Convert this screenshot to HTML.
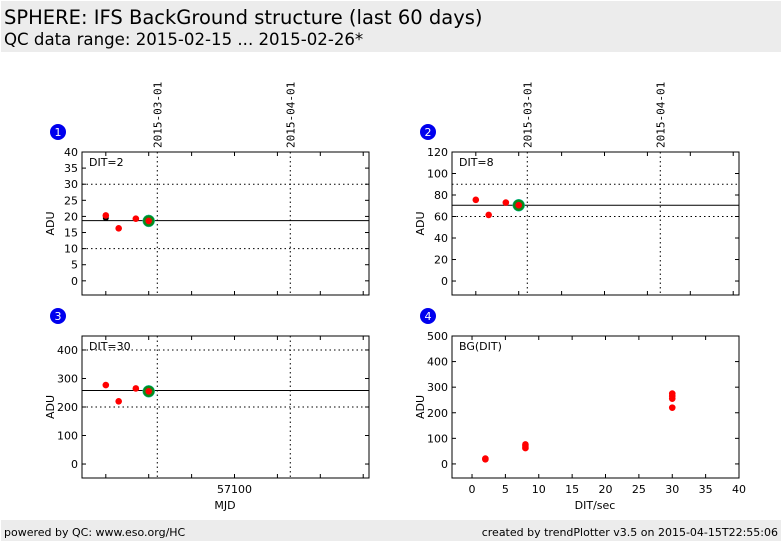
<!DOCTYPE html>
<html><head><meta charset="utf-8"><style>
body{margin:0;background:#fff;width:782px;height:542px;overflow:hidden;font-family:"DejaVu Sans","Liberation Sans",sans-serif}
svg text{font-family:"DejaVu Sans","Liberation Sans",sans-serif;fill:#000}
</style></head><body>
<svg id="c" width="782" height="542" xmlns="http://www.w3.org/2000/svg">
<rect x="1" y="1" width="780" height="51" fill="#ececec"/>
<text x="4" y="24" font-size="19.5">SPHERE: IFS BackGround structure (last 60 days)</text>
<text x="4" y="45" font-size="16.6">QC data range: 2015-02-15 ... 2015-02-26*</text>
<rect x="1" y="520" width="780" height="21" fill="#ececec"/>
<text x="4" y="536" font-size="11">powered by QC: www.eso.org/HC</text>
<text x="778" y="536" font-size="11" text-anchor="end">created by trendPlotter v3.5 on 2015-04-15T22:55:06</text>
<g id="plots"></g>
</svg>
<script>
// time panels: MJD values
const mjd = [57070, 57073, 57077, 57080];
const dit2Values = [20.3, 16.3, 19.3, 18.6];
const dit2Extra = [19.5];
const dit2Mean = 18.7;
const dit8Values = [75.5, 61.5, 73, 70.5];
const dit8Mean = 70.5;
const dit30Values = [277, 220, 265, 255];
const dit30Mean = 258;
const dateLineMjd = [57082, 57113];
const dateLabels = ["2015-03-01", "2015-04-01"];
// BG(DIT) panel
const bgDit = [2, 2, 8, 8, 8, 30, 30, 30, 30];
const bgAdu = [18, 21, 62, 70, 76, 220, 255, 265, 275];
const ticks1 = [0,5,10,15,20,25,30,35,40];
const ticks2 = [0,20,40,60,80,100,120];
const ticks3 = [0,100,200,300,400];
const ticks4 = [0,100,200,300,400,500];
const ticksX4 = [0,5,10,15,20,25,30,35,40];
const ticksMjd = [57070,57080,57090,57100,57110,57120,57130];

const NS="http://www.w3.org/2000/svg";
const root=document.getElementById('plots');
function mk(tag,a,parent){const e=document.createElementNS(NS,tag);for(const k in a)e.setAttribute(k,a[k]);(parent||root).appendChild(e);return e;}
function lin(d0,d1,r0,r1){return v=>r0+(v-d0)*(r1-r0)/(d1-d0);}

function panel(o){
  const g=mk('g',{});
  
  
  const X=lin(o.xd[0],o.xd[1],o.x0,o.x1), Y=lin(o.yd[0],o.yd[1],o.y1,o.y0);
  o.yt.forEach(t=>{const y=Y(t);
    mk('line',{x1:o.x0,x2:o.x0+4,y1:y,y2:y,stroke:'#000'},g);
    mk('line',{x1:o.x1-4,x2:o.x1,y1:y,y2:y,stroke:'#000'},g);
    const tx=mk('text',{x:o.x0-4,y:y+4,'font-size':11,'text-anchor':'end'},g);tx.textContent=t;
    
    
  });
  o.xt.forEach(t=>{const x=X(t);
    mk('line',{x1:x,x2:x,y1:o.y1,y2:o.y1-4,stroke:'#000'},g);
    mk('line',{x1:x,x2:x,y1:o.y0,y2:o.y0+4,stroke:'#000'},g);
    if(o.xlabels&&o.xlabels(t)){const tx=mk('text',{x:x,y:o.y1+15,'font-size':11,'text-anchor':'middle'},g);tx.textContent=o.xlabels(t);
      
      }
  });
  if(o.grid){ (o.grid.y||[]).forEach(v=>mk('line',{x1:o.x0,x2:o.x1,y1:Y(v),y2:Y(v),stroke:'#000','stroke-dasharray':'1.5,3'},g));
    dateLineMjd.forEach(v=>mk('line',{x1:X(v),x2:X(v),y1:o.y0,y2:o.y1,stroke:'#000','stroke-dasharray':'1.5,3'},g)); }
  if(o.mean!==undefined) mk('line',{x1:o.x0,x2:o.x1,y1:Y(o.mean),y2:Y(o.mean),stroke:'#000'},g);
  if(o.extra) o.extra.forEach(v=>mk('circle',{cx:X(o.xs[0]),cy:Y(v),r:3,fill:'#000'},g));
  o.xs.forEach((xv,i)=>{
    if(o.last&&i===o.xs.length-1){const c=mk('circle',{cx:X(xv),cy:Y(o.ys[i]),r:6,fill:'#0a8a1a',stroke:'#1cb','stroke-width':0.5},g);
      
      }
    const p=mk('circle',{cx:X(xv),cy:Y(o.ys[i]),r:3.3,fill:'#f00'},g);
    
    
  });
  mk('rect',{x:o.x0,y:o.y0,width:o.x1-o.x0,height:o.y1-o.y0,fill:'none',stroke:'#000'},g);
  const lb=mk('text',{x:o.x0+7,y:o.y0+14,'font-size':11},g);lb.textContent=o.label;
  
  
  const yl=mk('text',{x:0,y:0,'font-size':11,'text-anchor':'middle',transform:`translate(${o.x0-28},${(o.y0+o.y1)/2}) rotate(-90)`},g);yl.textContent='ADU';
  
  
  const bc=mk('circle',{cx:o.x0-24,cy:o.y0-20,r:8,fill:'#0000ee'},g);
  
  
  const bt=mk('text',{x:o.x0-24,y:o.y0-16,'font-size':11,'text-anchor':'middle',fill:'#fff',style:'fill:#fff'},g);bt.textContent=o.num;
  if(o.dates){dateLineMjd.forEach((v,i)=>{const t=mk('text',{x:0,y:0,'font-size':11,'font-family':'DejaVu Sans Mono, Liberation Mono, monospace',style:'font-family:"DejaVu Sans Mono","Liberation Mono",monospace',transform:`translate(${X(v)+4},${o.y0-4}) rotate(-90)`},g);t.textContent=dateLabels[i];
    
    });}
  return {X,Y,g};
}
const mjdD=[57064.45,57131.35];
panel({name:'panel-dit2',num:1,x0:82,x1:369,y0:152,y1:295,xd:mjdD,yd:[-4.4,40],yt:ticks1,xt:ticksMjd,grid:{y:[10,30]},mean:dit2Mean,xs:mjd,ys:dit2Values,extra:dit2Extra,last:true,label:'DIT=2',dates:true});
panel({name:'panel-dit8',num:2,x0:452,x1:739,y0:152,y1:295,xd:mjdD,yd:[-13,120],yt:ticks2,xt:ticksMjd,grid:{y:[60,90]},mean:dit8Mean,xs:mjd,ys:dit8Values,last:true,label:'DIT=8',dates:true});
panel({name:'panel-dit30',num:3,x0:82,x1:369,y0:336,y1:478,xd:mjdD,yd:[-49,449],yt:ticks3,xt:ticksMjd,grid:{y:[200,400]},mean:dit30Mean,xs:mjd,ys:dit30Values,last:true,label:'DIT=30',xlabels:t=>t===57100?'57100':''});
panel({name:'panel-bg-dit',num:4,x0:452,x1:739,y0:336,y1:478,xd:[-3,40],yd:[-55,500],yt:ticks4,xt:ticksX4,xs:bgDit,ys:bgAdu,label:'BG(DIT)',xlabels:t=>String(t)});
const xt3=mk('text',{x:225,y:509,'font-size':11,'text-anchor':'middle'});xt3.textContent='MJD';


const xt4=mk('text',{x:595,y:509,'font-size':11,'text-anchor':'middle'});xt4.textContent='DIT/sec';


</script>
</body></html>
